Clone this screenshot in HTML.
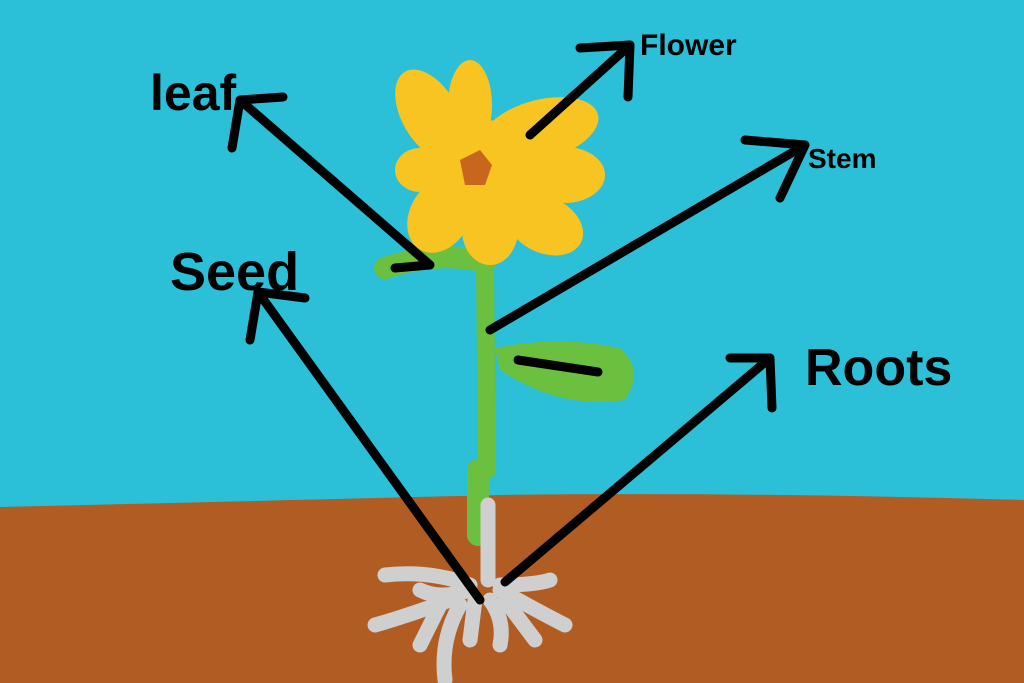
<!DOCTYPE html>
<html><head><meta charset="utf-8"><style>
html,body{margin:0;padding:0;width:1024px;height:683px;overflow:hidden;background:#2bbfd8}
svg{display:block}
text{font-family:"Liberation Sans",sans-serif;fill:#000}
</style></head><body>
<svg width="1024" height="683" viewBox="0 0 1024 683">
<rect width="1024" height="683" fill="#2bbfd8"/>
<path d="M0 507 Q300 500 500 495 Q750 492 1024 500 L1024 683 L0 683Z" fill="#b05c22"/>
<g stroke="#6cc040" stroke-linecap="round" fill="none">
<path d="M485 262 L487 470" stroke-width="18"/>
<path d="M478 470 L478 535" stroke-width="22"/>
<path d="M385 268 Q440 250 485 262" stroke-width="22"/>
</g>
<path d="M495 348 Q560 335 620 348 Q645 370 625 400 Q560 410 500 370Z" fill="#6cc040"/>
<g stroke="#cfcfcf" stroke-width="15" stroke-linecap="round" fill="none">
<path d="M488 505 L488 580"/>
<path d="M470 585 Q430 570 385 575"/>
<path d="M470 590 Q440 600 420 590"/>
<path d="M450 600 Q410 615 375 625"/>
<path d="M440 605 L420 645"/>
<path d="M460 605 Q440 640 445 680"/>
<path d="M475 600 L470 640"/>
<path d="M490 600 Q505 620 500 645"/>
<path d="M500 585 Q535 585 550 580"/>
<path d="M500 590 Q545 615 565 625"/>
<path d="M505 600 L535 640"/>
</g>
<g fill="#f8c422">
<ellipse cx="430" cy="115" rx="28" ry="50" transform="rotate(-30 430 115)"/>
<ellipse cx="470" cy="105" rx="22" ry="45"/>
<ellipse cx="540" cy="130" rx="60" ry="30" transform="rotate(-15 540 130)"/>
<ellipse cx="565" cy="175" rx="40" ry="28"/>
<ellipse cx="545" cy="225" rx="40" ry="28" transform="rotate(25 545 225)"/>
<ellipse cx="490" cy="230" rx="28" ry="35"/>
<ellipse cx="440" cy="215" rx="30" ry="40" transform="rotate(30 440 215)"/>
<ellipse cx="420" cy="170" rx="25" ry="22"/>
<circle cx="485" cy="175" r="55"/>
</g>
<path d="M460 160 L480 150 L492 165 L485 185 L465 185 Z" fill="#c8661e"/>
<g stroke="#000" stroke-width="9" stroke-linecap="round" stroke-linejoin="round" fill="none">
<path d="M395 268 L430 265 M430 265 L240 100 M232 148 L240 100 L283 97"/>
<path d="M530 135 L630 45 M580 48 L630 45 L628 97"/>
<path d="M490 330 L805 145 M745 140 L805 145 L780 198"/>
<path d="M480 600 L258 292 M250 340 L258 292 L305 298"/>
<path d="M505 582 L770 358 M730 358 L770 358 L772 408"/>
<path d="M518 360 L598 372"/>
</g>
<text x="150" y="110" font-size="50" font-weight="bold">leaf</text>
<text x="640" y="55" font-size="30" font-weight="bold">Flower</text>
<text x="808" y="168" font-size="28" font-weight="bold">Stem</text>
<text x="170" y="290" font-size="54" font-weight="bold">Seed</text>
<text x="805" y="385" font-size="52" font-weight="bold">Roots</text>
</svg>
</body></html>
